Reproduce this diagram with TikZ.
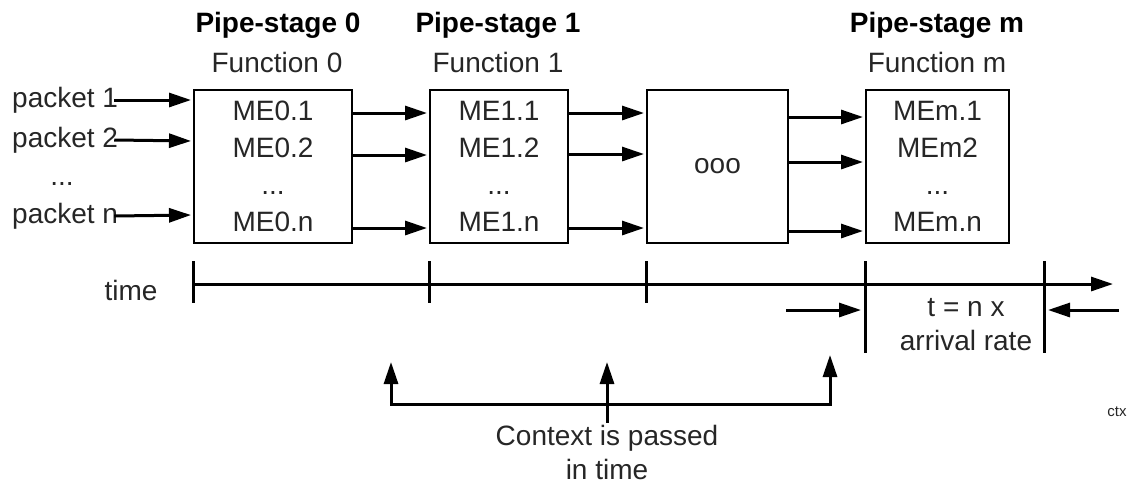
\documentclass[tikz,border=0pt]{standalone}
\usepackage{fontspec}
\setmainfont{Liberation Sans}
\usepackage{tikz}
\usetikzlibrary{positioning, arrows.meta, calc}
\definecolor{ink}{HTML}{000000}
\definecolor{txt}{HTML}{262626}
\begin{document}
\begin{tikzpicture}[x=1pt, y=-1pt,
  stage/.style={draw=ink, line width=2pt, minimum height=153pt, inner sep=0pt,
                text=txt, font=\fontsize{28}{37}\selectfont, align=center},
  head/.style={text=ink, font=\bfseries\fontsize{28}{34}\selectfont},
  lbl/.style={text=txt, font=\fontsize{28}{34}\selectfont, align=center, inner sep=0pt},
  flow/.style={draw=ink, line width=3pt, -{Triangle[length=22pt,width=14pt]}},
  tick/.style={draw=ink, line width=3pt}]
  \useasboundingbox (0,0) rectangle (1131,496);
  \node[stage, minimum width=158pt] (b0) at (273,166.5)   {ME0.1\\ME0.2\\...\\ME0.n};
  \node[stage, minimum width=138pt] (b1) at (499,166.5)   {ME1.1\\ME1.2\\...\\ME1.n};
  \node[stage, minimum width=141pt] (b2) at (717.5,166.5) {ooo};
  \node[stage, minimum width=143pt] (bm) at (937.5,166.5) {MEm.1\\MEm2\\...\\MEm.n};
  \node[head] (h0) at (278,25) {Pipe-stage 0};
  \node[head] (h1) at (498,25) {Pipe-stage 1};
  \node[head] (hm) at (937,25) {Pipe-stage m};
  \node[lbl] (f0) at (277,62) {Function 0};
  \node[lbl] (f1) at (498,62) {Function 1};
  \node[lbl] (fm) at (937,62) {Function m};
  \node[lbl, anchor=west] (p1) at (12,100) {packet 1};
  \node[lbl, anchor=west] (p2) at (12,140) {packet 2};
  \node[lbl] (pd) at (62,184) {...};
  \node[lbl, anchor=west] (pn) at (12,216) {packet n};
  \draw[flow, shorten >=2pt] ([xshift=-4pt]p1.east) -- (b0.west |- 0,100);
  \draw[flow, shorten >=2pt] ([xshift=-4pt]p2.east) -- (b0.west |- 0,141);
  \draw[flow, shorten >=2pt] ([xshift=-4pt]pn.east) -- (b0.west |- 0,215);
  \foreach \y in {113,155,228}
    \draw[flow, shorten >=2pt] (b0.east |- 0,\y) -- (b1.west |- 0,\y);
  \foreach \y in {113,154,228}
    \draw[flow, shorten >=2pt] (b1.east |- 0,\y) -- (b2.west |- 0,\y);
  \foreach \y in {117,162,231}
    \draw[flow, shorten >=2pt] (b2.east |- 0,\y) -- (bm.west |- 0,\y);
  \node[lbl] (tm) at (131,290) {time};
  \coordinate (tl) at (194,284);
  \coordinate (tr) at (1113,284);
  \coordinate (te) at (1044,284);
  \draw[flow] (tl) -- (tr);
  \foreach \b in {b0,b1,b2}
    \draw[tick] (\b.west |- 0,261) -- (\b.west |- 0,303);
  \draw[tick] (bm.west |- 0,261) -- (bm.west |- 0,353);
  \draw[tick] (te |- 0,261) -- (te |- 0,353);
  \coordinate (ra) at (786,310);
  \coordinate (la) at (1119,310);
  \draw[flow, shorten >=4pt] (ra) -- (bm.west |- ra);
  \draw[flow, shorten >=4pt] (la) -- (te |- la);
  \node[lbl] (rate) at (966,325) {t = n x\\arrival rate};
  \coordinate (cl) at (391,404);
  \coordinate (cm) at (607,404);
  \coordinate (cr) at (830,404);
  \draw[tick, line cap=rect] (cl) -- (cr);
  \draw[flow] (cl) -- (cl |- 0,362);
  \draw[flow] (cr) -- (cr |- 0,355);
  \node[lbl] (note) at (607,452) {Context is passed\\in time};
  \draw[flow] ([yshift=2pt]note.north) -- (cm |- 0,362);
  \node[text=txt, font=\fontsize{15}{18}\selectfont, inner sep=0pt] (ctx) at (1117,412) {ctx};
\end{tikzpicture}
\end{document}
